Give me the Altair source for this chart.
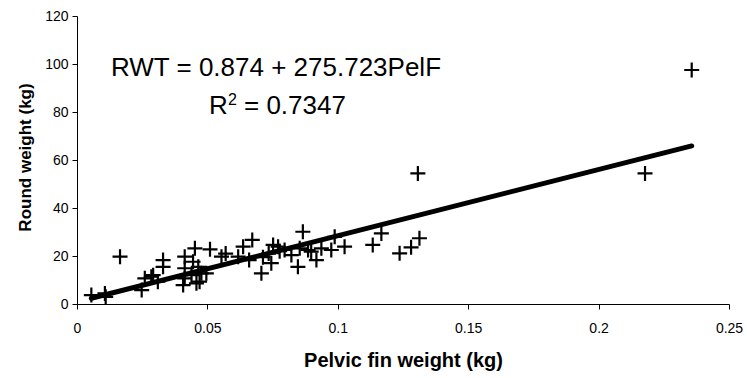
import altair as alt
import pandas as pd

# Pelvic fin weight (kg) and round weight (kg)
pelvic = [0.0055, 0.0107, 0.011, 0.0165, 0.0248, 0.026, 0.0285, 0.0292, 0.031, 0.033,
          0.033, 0.0407, 0.0413, 0.0413, 0.0413, 0.0439, 0.0445, 0.0452, 0.0458, 0.0465,
          0.0477, 0.047, 0.0496, 0.051, 0.0554, 0.057, 0.0618, 0.0637, 0.066, 0.0672,
          0.0707, 0.0713, 0.0735, 0.0745, 0.0752, 0.0771, 0.0777, 0.0796, 0.0822, 0.0847,
          0.0854, 0.0866, 0.0886, 0.0898, 0.0918, 0.0937, 0.0975, 0.0988, 0.1026, 0.1134,
          0.1167, 0.1237, 0.1281, 0.1313, 0.1307, 0.2178, 0.2357]
round_wt = [3.7, 4.4, 3.0, 19.7, 5.8, 10.7, 11.4, 12.0, 9.3, 18.3,
            15.5, 7.9, 10.7, 14.9, 19.7, 12.0, 17.6, 23.2, 8.6, 15.5,
            12.8, 9.3, 12.8, 22.8, 19.7, 21.0, 19.7, 23.9, 18.3, 26.7,
            12.8, 19.5, 21.0, 17.0, 24.6, 23.9, 22.0, 22.5, 20.4, 15.5,
            23.2, 30.1, 22.5, 21.8, 18.3, 23.2, 22.5, 28.0, 23.9, 24.6,
            29.4, 21.1, 23.6, 27.4, 54.4, 54.4, 97.5]

# Fitted line: RWT = 0.874 + 275.723 * PelF, drawn over the data range
intercept = 0.874
slope = 275.723
fit_x = [min(pelvic), max(pelvic)]
fit_y = [intercept + slope * v for v in fit_x]

x_ticks = [0, 0.05, 0.1, 0.15, 0.2, 0.25]
y_ticks = [0, 20, 40, 60, 80, 100, 120]

pts = pd.DataFrame({"x": pelvic, "y": round_wt})
fit = pd.DataFrame({"x": fit_x, "y": fit_y})

FONT = "Liberation Sans"

xscale = alt.Scale(domain=[0, 0.25], nice=False, zero=False)
yscale = alt.Scale(domain=[0, 120], nice=False)

xaxis = alt.Axis(title="Pelvic fin weight (kg)", values=x_ticks, grid=False,
                 tickSize=5, tickColor="black", domainColor="black",
                 labelFont=FONT, labelFontSize=14, labelColor="black",
                 labelPadding=12, titleFont=FONT, titleFontSize=20,
                 titleFontWeight="bold", titleColor="black",
                 titleBaseline="alphabetic", titleY=62,
                 labelFlush=False,
                 labelExpr="datum.value == 0 ? '0' : format(datum.value, '.2~f')")
yaxis = alt.Axis(title="Round weight (kg)", values=y_ticks, grid=False,
                 tickSize=5, tickColor="black", domainColor="black",
                 labelFont=FONT, labelFontSize=14, labelColor="black",
                 labelPadding=4, titleFont=FONT, titleFontSize=17,
                 titleFontWeight="bold", titleColor="black",
                 titleBaseline="alphabetic", titleX=-47, titleY=141,
                 titleAlign="center", labelFlush=False)

points = alt.Chart(pts).mark_point(
    shape="M-1,0L1,0M0,-1L0,1", size=225, filled=False,
    stroke="black", strokeWidth=2.2, opacity=1
).encode(
    x=alt.X("x:Q", scale=xscale, axis=xaxis),
    y=alt.Y("y:Q", scale=yscale, axis=yaxis),
)

line = alt.Chart(fit).mark_line(color="black", strokeWidth=5, strokeCap="round").encode(
    x=alt.X("x:Q", scale=xscale),
    y=alt.Y("y:Q", scale=yscale),
)

def label(txt, x, y, size):
    return alt.Chart(pd.DataFrame({"t": [txt]})).mark_text(
        font=FONT, fontSize=size, align="left", baseline="alphabetic", color="black"
    ).encode(text="t:N", x=alt.value(x), y=alt.value(y))

eq = label("RWT = 0.874 + 275.723PelF", 34, 60, 26)
r_main = label("R", 132, 98, 26)
r_sup = label("2", 151, 89, 16)
r_val = label("= 0.7347", 167, 98, 26)

chart = alt.layer(line, points, eq, r_main, r_sup, r_val).properties(
    width=652, height=288,
    autosize=alt.AutoSizeParams(type="none"),
    padding={"left": 77, "top": 16, "right": 18, "bottom": 74},
    background="white",
).configure_view(stroke=None)

chart.save("out.html", embed_options={"renderer": "svg", "actions": False})
